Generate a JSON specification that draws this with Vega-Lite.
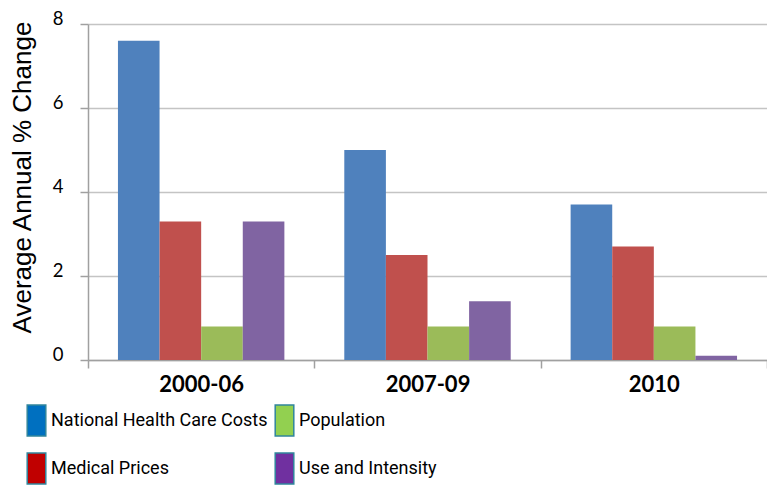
{
  "$schema": "https://vega.github.io/schema/vega-lite/v6.json",
  "width": 679,
  "height": 336,
  "autosize": {"type": "none"},
  "padding": {"left": 88, "top": 24, "right": 0, "bottom": 125},
  "background": "white",
  "data": {
    "values": [
      {"period": "2000-06", "component": "National Health Care Costs", "change": 7.6},
      {"period": "2000-06", "component": "Medical Prices", "change": 3.3},
      {"period": "2000-06", "component": "Population", "change": 0.8},
      {"period": "2000-06", "component": "Use and Intensity", "change": 3.3},
      {"period": "2007-09", "component": "National Health Care Costs", "change": 5.0},
      {"period": "2007-09", "component": "Medical Prices", "change": 2.5},
      {"period": "2007-09", "component": "Population", "change": 0.8},
      {"period": "2007-09", "component": "Use and Intensity", "change": 1.4},
      {"period": "2010", "component": "National Health Care Costs", "change": 3.7},
      {"period": "2010", "component": "Medical Prices", "change": 2.7},
      {"period": "2010", "component": "Population", "change": 0.8},
      {"period": "2010", "component": "Use and Intensity", "change": 0.1}
    ]
  },
  "encoding": {
    "x": {
      "field": "period",
      "type": "nominal",
      "sort": ["2000-06", "2007-09", "2010"],
      "scale": {"paddingInner": 0, "paddingOuter": 0},
      "axis": {
        "title": null,
        "labelAngle": 0,
        "labelFont": "Lato",
        "labelFontWeight": "bold",
        "labelFontSize": 22,
        "labelColor": "#000000",
        "labelPadding": 6,
        "tickBand": "extent",
        "tickSize": 8,
        "tickColor": "#a0a0a0",
        "tickWidth": 1.5,
        "domainColor": "#a0a0a0",
        "domainWidth": 1.5,
        "grid": false
      }
    },
    "xOffset": {
      "field": "component",
      "type": "nominal",
      "sort": ["National Health Care Costs", "Medical Prices", "Population", "Use and Intensity"],
      "scale": {"paddingInner": 0, "paddingOuter": 0.72}
    },
    "y": {
      "field": "change",
      "type": "quantitative",
      "scale": {"domain": [0, 8], "nice": false},
      "axis": {
        "values": [0, 2, 4, 6, 8],
        "title": "Average Annual % Change",
        "titleFont": "Liberation Sans",
        "titleFontSize": 26,
        "titleFontWeight": "normal",
        "titleColor": "#000000",
        "titleAngle": -90,
        "titleX": -66,
        "titleY": 153,
        "titleAlign": "center",
        "titleBaseline": "middle",
        "labelFont": "Lato",
        "labelFontSize": 18.5,
        "labelColor": "#000000",
        "labelPadding": 17,
        "labelBaseline": "alphabetic",
        "tickSize": 8,
        "tickColor": "#a0a0a0",
        "tickWidth": 1.5,
        "domainColor": "#a0a0a0",
        "domainWidth": 1.5,
        "grid": true,
        "gridColor": "#c4c4c4",
        "gridWidth": 1.5
      }
    }
  },
  "layer": [
    {
      "mark": {"type": "bar"},
      "encoding": {
        "color": {
          "field": "component",
          "type": "nominal",
          "scale": {
            "domain": ["National Health Care Costs", "Medical Prices", "Population", "Use and Intensity"],
            "range": ["#4f81bd", "#c0504d", "#9bbb59", "#8064a2"]
          },
          "legend": null
        }
      }
    },
    {
      "mark": {"type": "point", "filled": true, "size": 0, "opacity": 1, "strokeWidth": 0},
      "encoding": {
        "fill": {
          "field": "component",
          "type": "nominal",
          "scale": {
            "domain": ["National Health Care Costs", "Population", "Medical Prices", "Use and Intensity"],
            "range": ["#0070c0", "#92d050", "#c00000", "#7030a0"]
          },
          "legend": {
            "title": null,
            "orient": "none",
            "direction": "horizontal",
            "legendX": -68,
            "legendY": 380,
            "columns": 2,
            "columnPadding": -1,
            "rowPadding": 11,
            "padding": 0,
            "symbolType": "M-0.6,-1H0.6V1H-0.6Z",
            "symbolSize": 961,
            "symbolStrokeColor": "#31859c",
            "symbolStrokeWidth": 1.5,
            "symbolOpacity": 1,
            "labelFont": "Roboto",
            "labelFontSize": 18,
            "labelColor": "#000000",
            "labelOffset": -2,
            "labelLimit": 400
          }
        }
      }
    }
  ],
  "config": {"view": {"stroke": null}}
}
